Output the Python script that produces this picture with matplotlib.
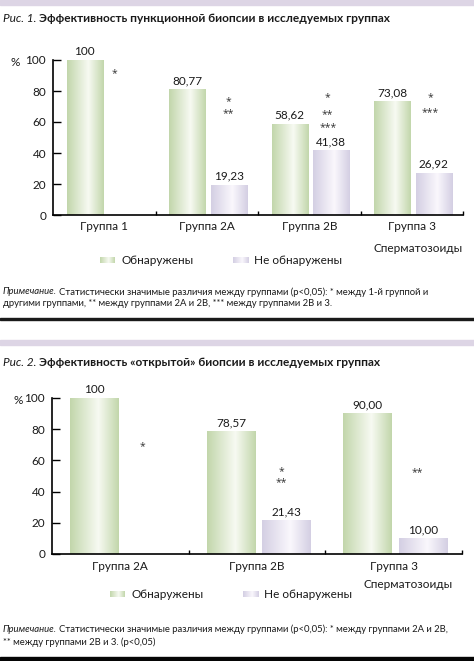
import matplotlib
matplotlib.use("Agg")
import matplotlib.pyplot as plt
import numpy as np
from matplotlib.colors import LinearSegmentedColormap

plt.rcParams['font.family'] = ['Lato', 'DejaVu Sans']

W, H = 474, 661
DPI = 100

# ---------------- data ----------------
groups1 = ["Группа 1", "Группа 2А", "Группа 2В", "Группа 3"]
found1 = [100, 80.77, 58.62, 73.08]
notfound1 = [0, 19.23, 41.38, 26.92]
stars1_text = ["*", "*", "**", "*", "**", "***", "*", "***"]
stars1_x = [0.60, 1.71, 1.71, 2.68, 2.68, 2.68, 3.68, 3.68]
stars1_y = [91.5, 73, 65.5, 75.5, 65, 56.5, 75.5, 66]

groups2 = ["Группа 2А", "Группа 2В", "Группа 3"]
found2 = [100, 78.57, 90.00]
notfound2 = [0, 21.43, 10.00]
stars2_text = ["*", "*", "**", "**"]
stars2_x = [0.66, 1.68, 1.68, 2.67]
stars2_y = [69, 53, 45.5, 52]

yticks = [0, 20, 40, 60, 80, 100]
legend_labels = ["Обнаружены", "Не обнаружены"]
title1_a, title1_b = "Рис. 1.", "Эффективность пункционной биопсии в исследуемых группах"
title2_a, title2_b = "Рис. 2.", "Эффективность «открытой» биопсии в исследуемых группах"
note1_a = "Примечание."
note1_b = "Статистически значимые различия между группами (p<0,05): * между 1-й группой и"
note1_c = "другими группами, ** между группами 2А и 2В, *** между группами 2В и 3."
note2_a = "Примечание."
note2_b = "Статистически значимые различия между группами (p<0,05): * между группами 2А и 2В,"
note2_c = "** между группами 2В и 3. (p<0,05)"
xlabel = "Сперматозоиды"

GREEN_EDGE = (0.76, 0.84, 0.67)
GREEN_MID = (0.97, 0.98, 0.95)
PURP_EDGE = (0.83, 0.81, 0.89)
PURP_MID = (0.98, 0.97, 0.99)
cm_green = LinearSegmentedColormap.from_list("g", [(0, GREEN_EDGE), (0.58, GREEN_MID), (1, GREEN_EDGE)])
cm_purp = LinearSegmentedColormap.from_list("p", [(0, PURP_EDGE), (0.58, PURP_MID), (1, PURP_EDGE)])
grad = np.linspace(0, 1, 256).reshape(1, -1)

fig = plt.figure(figsize=(W / DPI, H / DPI), dpi=DPI)
fig.patch.set_facecolor("white")

def fx(px):
    return px / W

def fy(py):
    return 1 - py / H

def frect(x0, y0, x1, y1, color):
    fig.patches.append(plt.Rectangle((fx(x0), fy(y1)), fx(x1) - fx(x0), fy(y0) - fy(y1),
                                     transform=fig.transFigure, color=color, zorder=0))

# decorative bands
frect(0, 0, W, 5, "#ddd5e5")
frect(0, 318, W, 320, "#1a1a1a")
frect(0, 340, W, 345, "#ddd5e5")
frect(0, 657, W, H, "#050505")

renderer = fig.canvas.get_renderer()
TXT = "#1a1a1a"

def two_part(x, y, a, b, size, bold_b=False, gap=2.5):
    t = fig.text(fx(x), fy(y), a, fontsize=size, style="italic", va="center", ha="left", color=TXT)
    bb = t.get_window_extent(renderer=renderer)
    fig.text(bb.x1 / W + fx(gap), fy(y), b, fontsize=size, va="center", ha="left",
             fontweight="bold" if bold_b else "normal", color=TXT)

def fmt(v):
    return "100" if v == 100 else f"{v:.2f}".replace(".", ",")

def chart(left, right, bottom, top, groups, found, notfound, sx, sy, st,
          pct_x, grp_y, sperm_x, sperm_y, leg_y, leg_x1, leg_x2):
    ax = fig.add_axes([fx(left), fy(bottom), fx(right) - fx(left), fy(top) - fy(bottom)])
    n = len(groups)
    xs = np.arange(n)
    bw = 0.355
    b1 = ax.bar(xs + 0.31, found, bw, color="none")
    b2 = ax.bar(xs + 0.715, notfound, bw, color="none")
    for bars, cm, vals in ((b1, cm_green, found), (b2, cm_purp, notfound)):
        for p, v in zip(bars, vals):
            if v <= 0:
                continue
            x0 = p.get_x()
            ax.imshow(grad, cmap=cm, extent=[x0, x0 + p.get_width(), 0, p.get_height()],
                      aspect="auto", zorder=2, interpolation="bilinear")
            ax.annotate(fmt(v), (x0 + p.get_width() / 2, v), xytext=(0, 2.5),
                        textcoords="offset points", ha="center", va="bottom",
                        fontsize=8.5, color=TXT)
    for t, x, y in zip(st, sx, sy):
        ax.text(x, y, t, ha="center", va="center", fontsize=7.5, color="#333333",
                family=["Open Sans", "DejaVu Sans"])
    ax.set_xlim(0, n)
    ax.set_ylim(0, 100)
    for s in ("top", "right"):
        ax.spines[s].set_visible(False)
    ax.spines["left"].set_linewidth(1.2)
    ax.spines["bottom"].set_linewidth(1.2)
    ax.set_yticks(yticks)
    ax.set_yticklabels([str(v) for v in yticks], fontsize=8.5, color=TXT)
    ax.tick_params(axis="y", direction="in", length=6, width=1, pad=5)
    ax.set_xticks(np.arange(1, n + 1))
    ax.set_xticklabels([])
    ax.tick_params(axis="x", direction="in", length=3, width=1)
    tr = matplotlib.transforms.blended_transform_factory(ax.transData, fig.transFigure)
    for i, g in enumerate(groups):
        ax.text(i + 0.5, fy(grp_y), g, transform=tr, ha="center", va="center",
                fontsize=8.5, color=TXT)
    fig.text(fx(pct_x), fy(top + 2), "%", fontsize=8.5, ha="center", va="center", color=TXT)
    fig.text(fx(sperm_x), fy(sperm_y), xlabel, fontsize=8.5, ha="right", va="center", color=TXT)
    # legend
    for lx, cm, lab in ((leg_x1, cm_green, legend_labels[0]), (leg_x2, cm_purp, legend_labels[1])):
        lax = fig.add_axes([fx(lx), fy(leg_y + 3.5), fx(15), 7 / H])
        lax.imshow(grad, cmap=cm, aspect="auto", interpolation="bilinear")
        lax.axis("off")
        fig.text(fx(lx + 21), fy(leg_y), lab, fontsize=8.5, ha="left", va="center", color=TXT)
    return ax

two_part(3, 18, title1_a, title1_b, 8.6, bold_b=True)
chart(53, 463, 215, 60, groups1, found1, notfound1, stars1_x, stars1_y, stars1_text,
      15, 226, 463, 248, 260, 100, 233)
two_part(3, 292, note1_a, note1_b, 6.8, gap=2)
fig.text(fx(3), fy(303), note1_c, fontsize=6.8, ha="left", va="center", color=TXT)

two_part(3, 362, title2_a, title2_b, 8.6, bold_b=True)
chart(52, 462, 554, 398, groups2, found2, notfound2, stars2_x, stars2_y, stars2_text,
      18, 567, 453, 585, 594, 110, 243)
two_part(3, 629, note2_a, note2_b, 6.8, gap=2)
fig.text(fx(3), fy(642), note2_c, fontsize=6.8, ha="left", va="center", color=TXT)

fig.savefig("out.png", dpi=DPI, facecolor="white")
